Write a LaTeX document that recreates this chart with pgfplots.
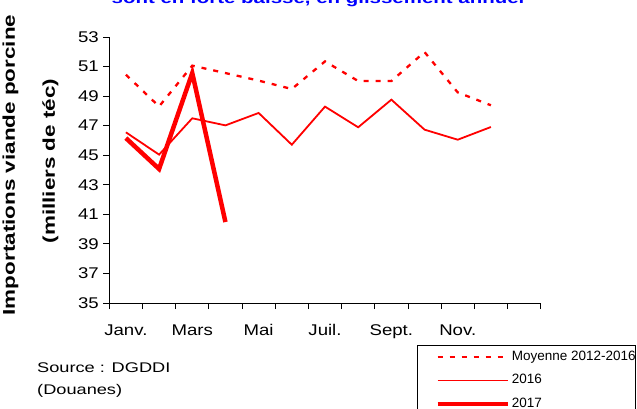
\documentclass[border=0pt]{standalone}
\usepackage{fontspec}
\setmainfont{Liberation Sans}
\newfontfamily\tickfont[FakeStretch=1.2]{Liberation Sans}
\newfontfamily\labfont[FakeStretch=1.32]{Liberation Sans}
\newfontfamily\srcfont[FakeStretch=1.3]{Liberation Sans}
\usepackage{pgfplots}
\pgfplotsset{compat=1.18}
\definecolor{xlred}{RGB}{255,0,0}
\definecolor{xlblue}{RGB}{0,0,255}
\begin{document}
\begin{tikzpicture}
\begin{axis}[
  at={(0,0)}, anchor=south west,
  scale only axis, width=431.4bp, height=266bp,
  xmin=0.5, xmax=13.5, ymin=35, ymax=53,
  axis x line*=bottom, axis y line*=left,
  axis line style={-, line width=0.9bp, black},
  xtick={0.5,1.5,...,13.5}, xticklabels={},
  extra x ticks={1,3,5,7,9,11},
  extra x tick labels={Janv.,Mars,Mai,Juil.,Sept.,Nov.},
  extra x tick style={major tick length=0pt, tick label style={anchor=base, yshift=-32bp}},
  ytick={35,37,...,53},
  /pgf/number format/assume math mode=true,
  tick align=outside, major tick length=6bp,
  tick style={line width=0.9bp, black},
  yticklabel style={anchor=east, xshift=-1bp},
  ticklabel style={font=\tickfont\fontsize{15.5bp}{18bp}\selectfont},
  clip=false,
  legend style={at={(axis description cs:0.7133,-0.158)}, anchor=north west,
    draw=black, line width=0.8bp, inner xsep=0bp, inner ysep=5bp,
    font=\fontsize{13.5bp}{16bp}\selectfont,
    nodes={inner sep=0bp, text height=10bp, text depth=3bp},
    row sep=10.5bp, column sep=2bp},
  legend cell align=left,
  legend image code/.code={\path (0bp,0bp); \draw[#1] (18bp,0bp) -- (88bp,0bp);},
]
\addplot[xlred, line width=2.3bp, dash pattern=on 5bp off 7bp] coordinates {
 (1,50.45) (2,48.3) (3,51.06) (4,50.56) (5,50.05) (6,49.48)
 (7,51.35) (8,50.02) (9,50.02) (10,51.98) (11,49.25) (12,48.38)};
\addlegendentry{Moyenne 2012-2016}
\addplot[xlred, line width=1.8bp] coordinates {
 (1,46.55) (2,45.04) (3,47.5) (4,47.02) (5,47.86) (6,45.71)
 (7,48.29) (8,46.89) (9,48.76) (10,46.73) (11,46.05) (12,46.91)};
\addlegendentry{2016}
\addplot[xlred, line width=4.5bp] coordinates {
 (1,46.16) (2,44.07) (3,50.56) (4,40.48)};
\addlegendentry{2017}
\end{axis}
% title (partly cut off at the top, as in the reference)
\node[anchor=base, text=xlblue, font=\labfont\bfseries\fontsize{15.5bp}{18bp}\selectfont] at (208.7bp,299bp) {sont en forte baisse, en glissement annuel};
% y label, two lines
\node[rotate=90, anchor=base, font=\labfont\bfseries\fontsize{17bp}{20bp}\selectfont] at (-94.3bp,138bp) {Importations viande porcine};
\node[rotate=90, anchor=base, font=\labfont\bfseries\fontsize{17bp}{20bp}\selectfont] at (-54.3bp,142bp) {(milliers de téc)};
% source
\node[anchor=base west, font=\srcfont\fontsize{14bp}{16bp}\selectfont, inner sep=0pt] at (-72.3bp,-69bp) {Source : DGDDI};
\node[anchor=base west, font=\srcfont\fontsize{14bp}{16bp}\selectfont, inner sep=0pt] at (-72.3bp,-91bp) {(Douanes)};
\pgfresetboundingbox
\path[use as bounding box] (-109.3bp,-106bp) rectangle (527.7bp,303bp);
\end{tikzpicture}
\end{document}
